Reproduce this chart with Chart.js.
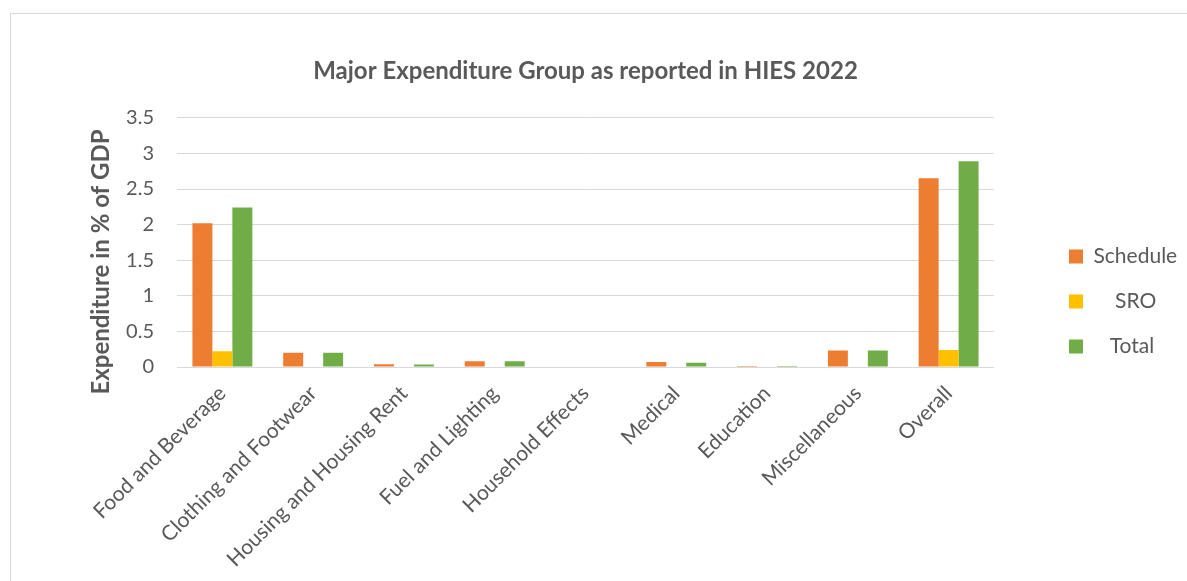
<!DOCTYPE html>
<html>
<head>
<meta charset="utf-8">
<script src="https://cdn.jsdelivr.net/npm/chart.js@4.4.1/dist/chart.umd.min.js"></script>
<style>
  html, body { margin: 0; padding: 0; background: #fff; }
  #wrap { position: relative; width: 1187px; height: 581px; overflow: hidden; }
  #frame { position: absolute; left: 10px; top: 13px; width: 1180px; height: 620px; border: 1px solid #d9d9d9; box-sizing: border-box; }
  canvas { position: absolute; left: 0; top: 0; }
</style>
</head>
<body>
<div id="wrap">
  <div id="frame"></div>
  <canvas id="c" width="1187" height="581"></canvas>
</div>
<script>
const categories = ["Food and Beverage", "Clothing and Footwear", "Housing and Housing Rent", "Fuel and Lighting", "Household Effects", "Medical", "Education", "Miscellaneous", "Overall"];
const scheduleValues = [2.02, 0.20, 0.04, 0.08, 0, 0.07, 0.015, 0.23, 2.65];
const sroValues      = [0.22, 0, 0, 0, 0, 0, 0, 0, 0.24];
const totalValues    = [2.24, 0.20, 0.035, 0.08, 0, 0.06, 0.015, 0.23, 2.89];
const yTicks = [0, 0.5, 1, 1.5, 2, 2.5, 3, 3.5];
const seriesNames = ["Schedule", "SRO", "Total"];
const chartTitle = "Major Expenditure Group as reported in HIES 2022";
const yAxisTitle = "Expenditure in % of GDP";

const FONT = "Lato, 'Open Sans', 'Liberation Sans', sans-serif";
const GREY = "#595959";
const legendIndent = ["", "    ", "   "];

const yTitlePlugin = {
  id: 'yTitle',
  afterDraw(chart) {
    const ctx = chart.ctx;
    ctx.save();
    ctx.translate(101, 262);
    ctx.rotate(-Math.PI / 2);
    ctx.font = "bold 24px " + FONT;
    ctx.fillStyle = GREY;
    ctx.textAlign = 'center';
    ctx.textBaseline = 'middle';
    ctx.fillText(yAxisTitle, 0, 0);
    ctx.restore();
  }
};

new Chart(document.getElementById('c'), {
  type: 'bar',
  data: {
    labels: categories,
    datasets: [
      { label: seriesNames[0], data: scheduleValues, backgroundColor: '#ED7D31' },
      { label: seriesNames[1], data: sroValues, backgroundColor: '#FFC000' },
      { label: seriesNames[2], data: totalValues, backgroundColor: '#70AD47' }
    ]
  },
  plugins: [yTitlePlugin],
  options: {
    responsive: false,
    animation: false,
    devicePixelRatio: 1,
    categoryPercentage: 0.66,
    barPercentage: 1.0,
    layout: { padding: 0 },
    plugins: {
      tooltip: { enabled: false },
      title: {
        display: true,
        fullSize: false,
        text: chartTitle,
        color: GREY,
        font: { family: FONT, size: 24, weight: 'bold', lineHeight: 1.2 },
        padding: { top: 57, bottom: 32 }
      },
      legend: {
        position: 'right',
        fullSize: true,
        maxWidth: 142,
        title: { display: true, text: '', font: { size: 10, lineHeight: 1 }, padding: 6 },
        labels: {
          color: GREY,
          font: { family: FONT, size: 21 },
          boxWidth: 14,
          boxHeight: 14,
          padding: 24,
          generateLabels: function(chart) {
            const items = Chart.defaults.plugins.legend.labels.generateLabels(chart);
            items.forEach((it, i) => { it.text = legendIndent[i] + it.text; it.lineWidth = 0; });
            return items;
          }
        }
      }
    },
    scales: {
      x: {
        grid: { display: false },
        border: { display: false },
        ticks: {
          color: GREY,
          font: { family: FONT, size: 21 },
          maxRotation: 45,
          minRotation: 45,
          autoSkip: false,
          padding: 6
        },
        afterFit: function(s) { s.height = 214; }
      },
      y: {
        min: 0,
        max: 3.5,
        afterBuildTicks: function(s) { s.ticks = yTicks.map(v => ({ value: v })); },
        grid: { color: '#d9d9d9', drawTicks: false, lineWidth: 1 },
        border: { display: false },
        ticks: {
          color: GREY,
          font: { family: FONT, size: 20 },
          padding: 23,
          callback: function(v) { return String(v); }
        },
        afterFit: function(s) { s.width = 177; }
      },
      y2: {
        type: 'linear',
        position: 'right',
        display: true,
        grid: { display: false, drawTicks: false },
        border: { display: false },
        ticks: { display: false },
        afterFit: function(s) { s.width = 51; }
      }
    }
  }
});
</script>
</body>
</html>
